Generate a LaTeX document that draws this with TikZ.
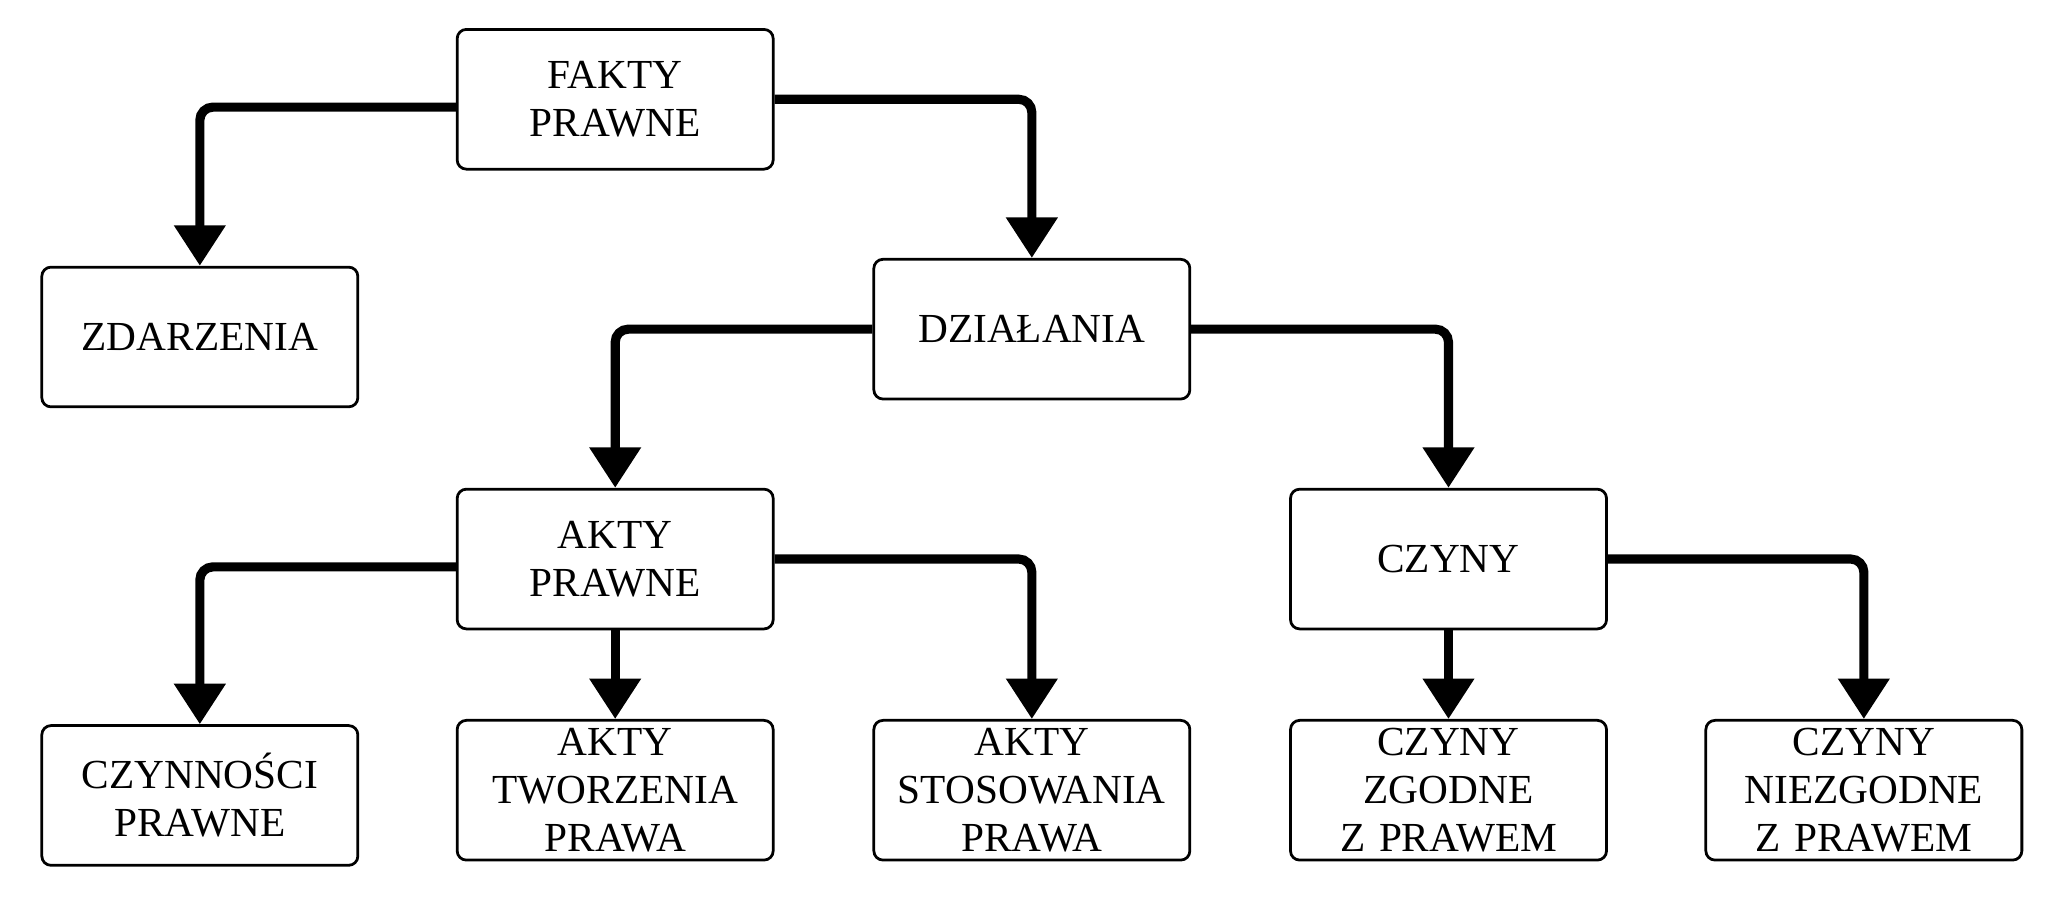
\documentclass[tikz,border=0pt]{standalone}
\usepackage{fontspec}
\setmainfont{Liberation Serif}
\usetikzlibrary{arrows.meta}
\begin{document}
\begin{tikzpicture}[x=0.02cm, y=-0.02cm]
    % Define the style for the nodes
    \tikzstyle{block} = [rectangle, draw, line width=1.2pt, fill=white, text width=4.6cm, align=center, rounded corners=4pt, minimum width=4.84cm, minimum height=2.14cm, inner sep=2pt, font=\fontsize{18}{21}\selectfont]
    \tikzstyle{line} = [draw, line width=0.14cm, rounded corners=0.2cm, -{Triangle[width=0.76cm, length=0.62cm]}]
    \useasboundingbox (0,0) rectangle (1568,698);

    % Place the nodes
    \node [block] (fakty) at (471,76) {FAKTY\\PRAWNE};
    \node [block] (zdarzenia) at (153,258) {ZDARZENIA};
    \node [block] (dzialania) at (790,252) {DZIAŁANIA};
    \node [block] (akty) at (471,428) {AKTY\\PRAWNE};
    \node [block] (czyny) at (1109,428) {CZYNY};
    \node [block] (czynnosci) at (153,609) {CZYNNOŚCI\\PRAWNE};
    \node [block] (tworzenia) at (471,605) {AKTY\\TWORZENIA\\PRAWA};
    \node [block] (stosowania) at (790,605) {AKTY\\STOSOWANIA\\PRAWA};
    \node [block] (zgodne) at (1109,605) {CZYNY\\ZGODNE\\Z PRAWEM};
    \node [block] (niezgodne) at (1427,605) {CZYNY\\NIEZGODNE\\Z PRAWEM};

    % Connect the nodes with paths
    \path [line] ([yshift=-0.12cm]fakty.west) -| (zdarzenia.north);
    \path [line] (fakty.east) -| (dzialania.north);
    \path [line] (dzialania.west) -| (akty.north);
    \path [line] (dzialania.east) -| (czyny.north);
    \path [line] ([yshift=-0.12cm]akty.west) -| (czynnosci.north);
    \path [line] (akty.south) -- (tworzenia.north);
    \path [line] (akty.east) -| (stosowania.north);
    \path [line] (czyny.south) -- (zgodne.north);
    \path [line] (czyny.east) -| (niezgodne.north);
\end{tikzpicture}
\end{document}
